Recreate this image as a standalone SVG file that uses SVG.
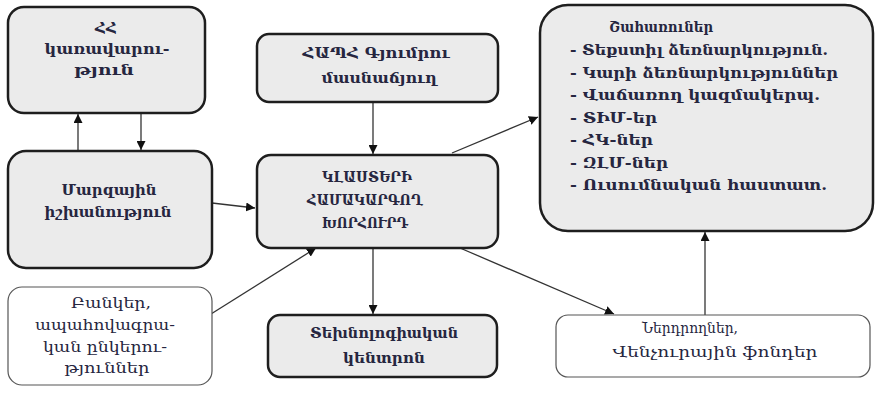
<svg xmlns="http://www.w3.org/2000/svg" width="880" height="398" viewBox="0 0 880 398">
<style>
.g{fill:#ebebeb;stroke:#1e1e1e;stroke-width:2.5}
.w{fill:#ffffff;stroke:#555;stroke-width:1.2}
text{font-family:"DejaVu Serif","DejaVu Sans",serif;fill:#262640;font-size:14px}
.b{font-weight:bold}
.c{text-anchor:middle}
.l{font-size:15px}
.ln{stroke:#333;stroke-width:1.3;fill:none}
</style>
<defs>
<marker id="ah" viewBox="0 0 10 10" refX="10" refY="5" markerWidth="9" markerHeight="9" markerUnits="userSpaceOnUse" orient="auto">
<path d="M0,0 L10,5 L0,10 z" fill="#111"/>
</marker>
</defs>
<rect width="880" height="398" fill="#fff"/>
<g id="connectors">
<line class="ln" x1="78" y1="151" x2="78" y2="114" marker-end="url(#ah)"/>
<line class="ln" x1="141" y1="113" x2="141" y2="150" marker-end="url(#ah)"/>
<line class="ln" x1="212" y1="203" x2="255" y2="208" marker-end="url(#ah)"/>
<line class="ln" x1="211" y1="314" x2="316" y2="248" marker-end="url(#ah)"/>
<line class="ln" x1="373" y1="102" x2="373" y2="154" marker-end="url(#ah)"/>
<line class="ln" x1="452" y1="153" x2="538" y2="117" marker-end="url(#ah)"/>
<line class="ln" x1="373" y1="248" x2="373" y2="314" marker-end="url(#ah)"/>
<line class="ln" x1="460" y1="248" x2="614" y2="314" marker-end="url(#ah)"/>
<line class="ln" x1="705" y1="315" x2="705" y2="232" marker-end="url(#ah)"/>
</g>
<g id="n-hh">
<rect class="g" x="8" y="7" width="197" height="106" rx="16"/>
<text class="b c" x="106" y="33" textLength="22" lengthAdjust="spacingAndGlyphs">ՀՀ</text>
<text class="b c" x="107" y="54" textLength="125" lengthAdjust="spacingAndGlyphs">կառավարու-</text>
<text class="b c" x="104" y="75" textLength="60" lengthAdjust="spacingAndGlyphs">թյուն</text>
</g>
<g id="n-marz">
<rect class="g" x="8" y="151" width="204" height="117" rx="18"/>
<text class="b c" x="109" y="195" textLength="95" lengthAdjust="spacingAndGlyphs">Մարզային</text>
<text class="b c" x="108" y="217" textLength="127" lengthAdjust="spacingAndGlyphs">իշխանություն</text>
</g>
<g id="n-bank">
<rect class="w" x="8" y="287" width="204" height="98" rx="14"/>
<text class="c" x="111" y="308" textLength="80" lengthAdjust="spacingAndGlyphs">Բանկեր,</text>
<text class="c" x="105" y="330" textLength="140" lengthAdjust="spacingAndGlyphs">ապահովագրա-</text>
<text class="c" x="105" y="352" textLength="124" lengthAdjust="spacingAndGlyphs">կան ընկերու-</text>
<text class="c" x="107" y="373" textLength="85" lengthAdjust="spacingAndGlyphs">թյուններ</text>
</g>
<g id="n-hapoh">
<rect class="g" x="257" y="34" width="241" height="68" rx="12"/>
<text class="b c" x="376" y="58" textLength="147" lengthAdjust="spacingAndGlyphs">ՀԱՊՀ Գյումրու</text>
<text class="b c" x="379" y="83" textLength="115" lengthAdjust="spacingAndGlyphs">մասնաճյուղ</text>
</g>
<g id="n-cluster">
<rect class="g" x="257" y="155" width="241" height="93" rx="14"/>
<text class="b c" x="367" y="182" textLength="90" lengthAdjust="spacingAndGlyphs">ԿԼԱՍՏԵՐԻ</text>
<text class="b c" x="365" y="205" textLength="116" lengthAdjust="spacingAndGlyphs">ՀԱՄԱԿԱՐԳՈՂ</text>
<text class="b c" x="365" y="228" textLength="86" lengthAdjust="spacingAndGlyphs">ԽՈՐՀՈՒՐԴ</text>
</g>
<g id="n-tech">
<rect class="g" x="268" y="315" width="229" height="62" rx="12"/>
<text class="b c" x="384" y="338" textLength="148" lengthAdjust="spacingAndGlyphs">Տեխնոլոգիական</text>
<text class="b c" x="384" y="363" textLength="82" lengthAdjust="spacingAndGlyphs">կենտրոն</text>
</g>
<g id="n-invest">
<rect class="w" x="556" y="315" width="314" height="62" rx="12"/>
<text class="c" x="690" y="333" textLength="96" lengthAdjust="spacingAndGlyphs">Ներդրողներ,</text>
<text class="c" x="715" y="357" textLength="205" lengthAdjust="spacingAndGlyphs">Վենչուրային ֆոնդեր</text>
</g>
<g id="n-stake">
<rect class="g" x="540" y="5" width="333" height="226" rx="28"/>
<text class="b c l" x="661" y="32" textLength="104" lengthAdjust="spacingAndGlyphs">Շահառուներ</text>
<text class="b l" x="570" y="55" textLength="258" lengthAdjust="spacingAndGlyphs">- Տեքստիլ ձեռնարկություն.</text>
<text class="b l" x="570" y="77.5" textLength="268" lengthAdjust="spacingAndGlyphs">- Կարի ձեռնարկություններ</text>
<text class="b l" x="570" y="100" textLength="250" lengthAdjust="spacingAndGlyphs">- Վաճառող կազմակերպ.</text>
<text class="b l" x="570" y="122.5" textLength="87" lengthAdjust="spacingAndGlyphs">- ՏԻՄ-եր</text>
<text class="b l" x="570" y="145" textLength="83" lengthAdjust="spacingAndGlyphs">- ՀԿ-ներ</text>
<text class="b l" x="570" y="167.5" textLength="98" lengthAdjust="spacingAndGlyphs">- ԶԼՄ-ներ</text>
<text class="b l" x="570" y="190" textLength="257" lengthAdjust="spacingAndGlyphs">- Ուսումնական հաստատ.</text>
</g>
</svg>
